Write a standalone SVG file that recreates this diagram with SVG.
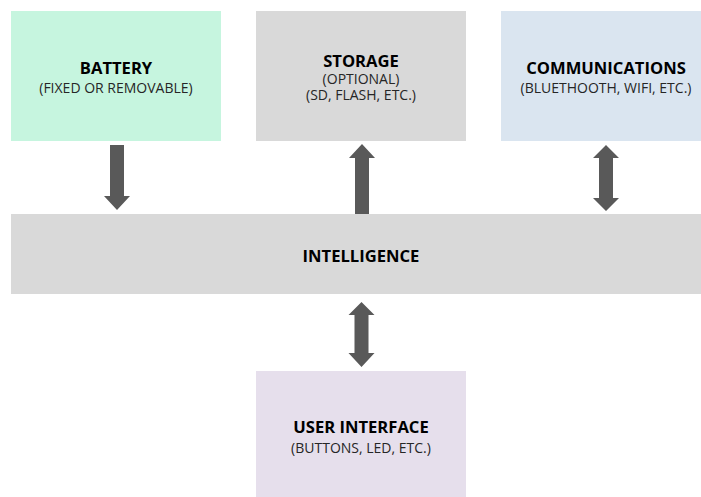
<svg xmlns="http://www.w3.org/2000/svg" width="701" height="497" viewBox="0 0 701 497">
  <style>
    .title { font-family: "Open Sans", "Liberation Sans", sans-serif; font-weight: bold; font-size: 16.6px; fill: #000; text-anchor: middle; }
    .sub { font-family: "Open Sans", "Liberation Sans", sans-serif; font-size: 14px; fill: #262626; text-anchor: middle; }
    .arrow { fill: #595959; }
  </style>
  <rect width="701" height="497" fill="#ffffff"/>

  <g id="battery">
    <rect x="11" y="11" width="210" height="130" fill="#C6F5DF"/>
    <text class="title" x="116" y="74">BATTERY</text>
    <text class="sub" x="116" y="93">(FIXED OR REMOVABLE)</text>
  </g>

  <g id="storage">
    <rect x="256" y="11" width="210" height="130" fill="#D9D9D9"/>
    <text class="title" x="361" y="67">STORAGE</text>
    <text class="sub" x="361" y="83.5">(OPTIONAL)</text>
    <text class="sub" x="361" y="100">(SD, FLASH, ETC.)</text>
  </g>

  <g id="communications">
    <rect x="501" y="11" width="210" height="130" fill="#DAE5F0"/>
    <text class="title" x="606" y="74">COMMUNICATIONS</text>
    <text class="sub" x="606" y="93">(BLUETHOOTH, WIFI, ETC.)</text>
  </g>

  <g id="intelligence">
    <rect x="11" y="214" width="700" height="80" fill="#D9D9D9"/>
    <text class="title" x="361" y="262">INTELLIGENCE</text>
  </g>

  <g id="user-interface">
    <rect x="256" y="371" width="210" height="130" fill="#E6DFEC"/>
    <text class="title" x="361" y="433">USER INTERFACE</text>
    <text class="sub" x="361" y="453">(BUTTONS, LED, ETC.)</text>
  </g>

  <g id="connectors">
    <!-- battery -> intelligence -->
    <path class="arrow" d="M110,145 H124 V196 H130 L117,210 L104,196 H110 Z"/>
    <!-- intelligence -> storage -->
    <path class="arrow" d="M362,144 L375,158 H369 V214 H355 V158 H349 Z"/>
    <!-- communications <-> intelligence -->
    <path class="arrow" d="M606,145 L619,158 H613 V198 H619 L606,211 L593,198 H599 V158 H593 Z"/>
    <!-- intelligence <-> user interface -->
    <path class="arrow" d="M361.5,302 L374.5,315 H368.5 V353 H374.5 L361.5,367 L348.5,353 H354.5 V315 H348.5 Z"/>
  </g>
</svg>
